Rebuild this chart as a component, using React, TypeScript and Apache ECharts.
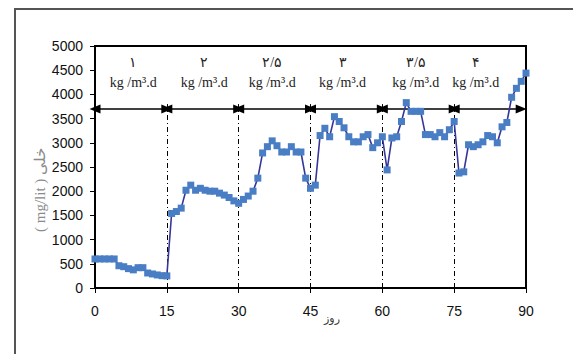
import React, { useEffect, useRef } from "react";
import * as echarts from "echarts";

// Concentration (mg/lit) per day, day 0..90
const values = [
  600, 600, 600, 600, 600, 460, 440, 400, 375, 420, 420, 310, 290, 270, 255, 250,
  1540, 1580, 1650, 2020, 2125, 2020, 2060, 2020, 2000, 2000, 1960, 1920, 1870, 1800, 1750,
  1830, 1900, 2000, 2270, 2790, 2920, 3040, 2940, 2810, 2810, 2920, 2810, 2810, 2270, 2060,
  2125, 3150, 3300, 3125, 3540, 3440, 3310, 3125, 3020, 3020, 3125, 3170, 2900, 3000, 3125,
  2440, 3100, 3125, 3440, 3830, 3650, 3650, 3650, 3170, 3170, 3125, 3210, 3125, 3270, 3440,
  2375, 2400, 2960, 2920, 2960, 3020, 3150, 3125, 3000, 3330, 3420, 3940, 4125, 4270, 4440,
];

const dividers = [15, 30, 45, 60, 75];
const dividerTop = 3800;
const arrowY = 3700;
const arrowRanges: [number, number][] = [
  [0, 15], [15, 30], [30, 45], [45, 60], [60, 75], [75, 89],
];
const loadLabels = ["۱", "۲", "۲/۵", "۳", "۳/۵", "۴"];
const labelX = [8, 22.8, 37, 51.7, 67, 79.5];
const labelY = 4460;
const unitText = "kg /m³.d";

export default function App() {
  const ref = useRef<HTMLDivElement>(null);
  useEffect(() => {
    if (!ref.current) return;
    const chart = echarts.init(ref.current, null, { renderer: "svg" });
    const pts = values.map((v, i) => [i, v]);
    chart.setOption({
      animation: false,
      backgroundColor: "#ffffff",
      grid: {
        left: 95,
        top: 46,
        right: 47,
        bottom: 66,
        show: true,
        borderColor: "#000",
        borderWidth: 2,
        backgroundColor: "transparent",
      },
      xAxis: {
        type: "value",
        min: 0,
        max: 90,
        interval: 15,
        axisLine: { show: true, lineStyle: { color: "#000", width: 2 } },
        axisTick: { show: true, length: 5, lineStyle: { color: "#000" } },
        axisLabel: {
          margin: 16,
          fontSize: 14,
          color: "#111",
          fontFamily: "Arial",
        },
        splitLine: { show: false },
      },
      yAxis: {
        type: "value",
        min: 0,
        max: 5000,
        interval: 500,
        axisLine: { show: true, lineStyle: { color: "#000", width: 2 } },
        axisTick: { show: true, length: 5, lineStyle: { color: "#000" } },
        axisLabel: {
          margin: 12,
          fontSize: 14,
          color: "#111",
          fontFamily: "Arial",
          formatter: (v: number) => String(v),
        },
        splitLine: { show: false },
      },
      graphic: [
        {
          type: "rect",
          shape: { x: 15, y: 9, width: 600, height: 400 },
          style: { fill: "none", stroke: "#555", lineWidth: 2 },
          z: -1,
        },
        {
          type: "text",
          x: 40,
          y: 190,
          rotation: Math.PI / 2,
          style: {
            text: "( mg/lit ) خلی",
            fill: "#8a8a8a",
            fontSize: 15,
            fontFamily: "Liberation Serif",
            align: "center",
            verticalAlign: "middle",
          },
        },
        {
          type: "text",
          x: 332,
          y: 318,
          style: {
            text: "روز",
            fill: "#333",
            fontSize: 11,
            fontFamily: "DejaVu Sans",
            align: "center",
            verticalAlign: "middle",
          },
        },
      ],
      series: [
        {
          type: "line",
          data: [],
          silent: true,
          markLine: {
            silent: true,
            symbol: ["none", "none"],
            label: { show: false },
            lineStyle: { color: "#000", width: 1, type: [5, 3, 1, 3] },
            data: dividers.map((d) => [
              { coord: [d, 0] },
              { coord: [d, dividerTop] },
            ]),
          },
        },
        {
          type: "line",
          data: [],
          silent: true,
          markLine: {
            silent: true,
            symbol: ["triangle", "triangle"],
            symbolSize: [9, 11],
            label: { show: false },
            lineStyle: { color: "#000", width: 1.5, type: "solid" },
            itemStyle: { color: "#000" },
            data: arrowRanges.map(([a, b]) => [
              { coord: [a, arrowY] },
              { coord: [b, arrowY] },
            ]),
          },
          markPoint: {
            silent: true,
            symbol: "rect",
            symbolSize: 0,
            label: {
              show: true,
              position: "inside",
              color: "#222",
              fontSize: 14,
              lineHeight: 20,
              fontFamily: "Liberation Serif",
              formatter: (p: any) => p.name + "\n" + unitText,
            },
            data: loadLabels.map((t, i) => ({
              name: t,
              coord: [labelX[i], labelY],
            })),
          },
        },
        {
          type: "line",
          data: pts,
          symbol: "rect",
          symbolSize: 7,
          z: 5,
          lineStyle: { color: "#35359a", width: 1.6 },
          itemStyle: { color: "#4a7ec4" },
        },
      ],
    });
    return () => chart.dispose();
  }, []);
  return (
    <div
      ref={ref}
      style={{ position: "fixed", left: 0, top: 0, width: 573, height: 354 }}
    />
  );
}
